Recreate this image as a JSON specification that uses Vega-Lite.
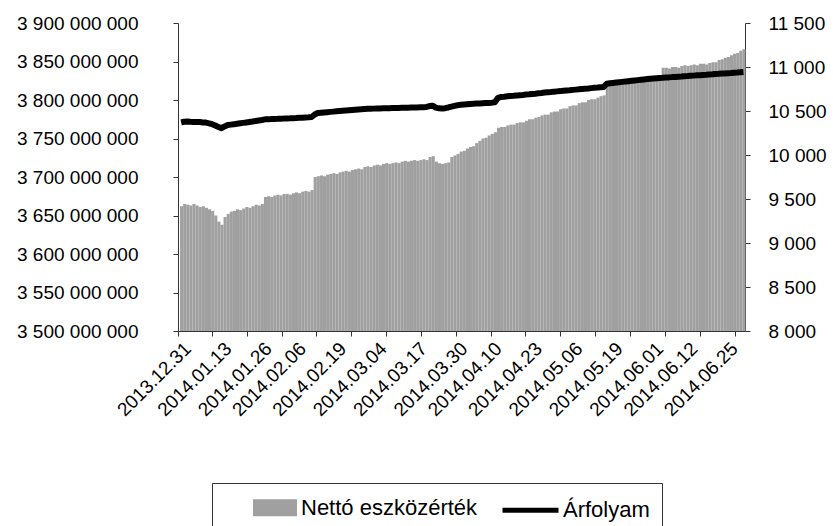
{
  "$schema": "https://vega.github.io/schema/vega-lite/v6.json",
  "width": 567,
  "height": 308,
  "autosize": {"type": "none"},
  "padding": {"left": 178, "top": 23, "right": 88, "bottom": 195},
  "background": "#ffffff",
  "config": {
    "font": "Liberation Sans",
    "view": {"stroke": null},
    "axis": {"labelFont": "Liberation Sans", "labelFontSize": 19, "labelColor": "#000000", "domainColor": "#333333", "tickColor": "#333333", "grid": false, "title": null},
    "legend": {"labelFont": "Liberation Sans", "labelFontSize": 22, "labelColor": "#000000", "labelLimit": 400}
  },
  "data": {"values": [
    {"date":"2013-12-31","nav":3662000000,"rate":10370},
    {"date":"2014-01-01","nav":3665000000,"rate":10378},
    {"date":"2014-01-02","nav":3664000000,"rate":10380},
    {"date":"2014-01-03","nav":3663000000,"rate":10377},
    {"date":"2014-01-04","nav":3665000000,"rate":10375},
    {"date":"2014-01-05","nav":3663000000,"rate":10376},
    {"date":"2014-01-06","nav":3661000000,"rate":10374},
    {"date":"2014-01-07","nav":3662000000,"rate":10370},
    {"date":"2014-01-08","nav":3660000000,"rate":10368},
    {"date":"2014-01-09","nav":3658000000,"rate":10360},
    {"date":"2014-01-10","nav":3656000000,"rate":10350},
    {"date":"2014-01-11","nav":3650000000,"rate":10335},
    {"date":"2014-01-12","nav":3642000000,"rate":10318},
    {"date":"2014-01-13","nav":3638000000,"rate":10305},
    {"date":"2014-01-14","nav":3648000000,"rate":10325},
    {"date":"2014-01-15","nav":3652000000,"rate":10340},
    {"date":"2014-01-16","nav":3655000000,"rate":10345},
    {"date":"2014-01-17","nav":3656000000,"rate":10350},
    {"date":"2014-01-18","nav":3658000000,"rate":10355},
    {"date":"2014-01-19","nav":3657000000,"rate":10360},
    {"date":"2014-01-20","nav":3659000000,"rate":10365},
    {"date":"2014-01-21","nav":3661000000,"rate":10370},
    {"date":"2014-01-22","nav":3660000000,"rate":10375},
    {"date":"2014-01-23","nav":3662000000,"rate":10380},
    {"date":"2014-01-24","nav":3664000000,"rate":10386},
    {"date":"2014-01-25","nav":3663000000,"rate":10392},
    {"date":"2014-01-26","nav":3665000000,"rate":10398},
    {"date":"2014-01-27","nav":3674000000,"rate":10405},
    {"date":"2014-01-28","nav":3675000000,"rate":10407},
    {"date":"2014-01-29","nav":3674000000,"rate":10408},
    {"date":"2014-01-30","nav":3676000000,"rate":10410},
    {"date":"2014-01-31","nav":3677000000,"rate":10411},
    {"date":"2014-02-01","nav":3676000000,"rate":10413},
    {"date":"2014-02-02","nav":3678000000,"rate":10414},
    {"date":"2014-02-03","nav":3678000000,"rate":10416},
    {"date":"2014-02-04","nav":3677000000,"rate":10417},
    {"date":"2014-02-05","nav":3679000000,"rate":10419},
    {"date":"2014-02-06","nav":3680000000,"rate":10420},
    {"date":"2014-02-07","nav":3679000000,"rate":10422},
    {"date":"2014-02-08","nav":3681000000,"rate":10424},
    {"date":"2014-02-09","nav":3682000000,"rate":10426},
    {"date":"2014-02-10","nav":3681000000,"rate":10428},
    {"date":"2014-02-11","nav":3683000000,"rate":10432},
    {"date":"2014-02-12","nav":3700000000,"rate":10460},
    {"date":"2014-02-13","nav":3701000000,"rate":10478},
    {"date":"2014-02-14","nav":3702000000,"rate":10481},
    {"date":"2014-02-15","nav":3701000000,"rate":10484},
    {"date":"2014-02-16","nav":3703000000,"rate":10487},
    {"date":"2014-02-17","nav":3704000000,"rate":10490},
    {"date":"2014-02-18","nav":3705000000,"rate":10493},
    {"date":"2014-02-19","nav":3704000000,"rate":10496},
    {"date":"2014-02-20","nav":3706000000,"rate":10499},
    {"date":"2014-02-21","nav":3707000000,"rate":10502},
    {"date":"2014-02-22","nav":3708000000,"rate":10505},
    {"date":"2014-02-23","nav":3707000000,"rate":10508},
    {"date":"2014-02-24","nav":3709000000,"rate":10511},
    {"date":"2014-02-25","nav":3710000000,"rate":10514},
    {"date":"2014-02-26","nav":3711000000,"rate":10517},
    {"date":"2014-02-27","nav":3710000000,"rate":10520},
    {"date":"2014-02-28","nav":3713000000,"rate":10523},
    {"date":"2014-03-01","nav":3714000000,"rate":10525},
    {"date":"2014-03-02","nav":3713000000,"rate":10526},
    {"date":"2014-03-03","nav":3715000000,"rate":10527},
    {"date":"2014-03-04","nav":3716000000,"rate":10528},
    {"date":"2014-03-05","nav":3715000000,"rate":10529},
    {"date":"2014-03-06","nav":3717000000,"rate":10530},
    {"date":"2014-03-07","nav":3718000000,"rate":10531},
    {"date":"2014-03-08","nav":3717000000,"rate":10532},
    {"date":"2014-03-09","nav":3718000000,"rate":10533},
    {"date":"2014-03-10","nav":3719000000,"rate":10534},
    {"date":"2014-03-11","nav":3718000000,"rate":10535},
    {"date":"2014-03-12","nav":3720000000,"rate":10536},
    {"date":"2014-03-13","nav":3721000000,"rate":10537},
    {"date":"2014-03-14","nav":3720000000,"rate":10538},
    {"date":"2014-03-15","nav":3721000000,"rate":10539},
    {"date":"2014-03-16","nav":3722000000,"rate":10540},
    {"date":"2014-03-17","nav":3721000000,"rate":10541},
    {"date":"2014-03-18","nav":3722000000,"rate":10542},
    {"date":"2014-03-19","nav":3723000000,"rate":10543},
    {"date":"2014-03-20","nav":3722000000,"rate":10546},
    {"date":"2014-03-21","nav":3726000000,"rate":10556},
    {"date":"2014-03-22","nav":3727000000,"rate":10560},
    {"date":"2014-03-23","nav":3720000000,"rate":10538},
    {"date":"2014-03-24","nav":3718000000,"rate":10530},
    {"date":"2014-03-25","nav":3717000000,"rate":10528},
    {"date":"2014-03-26","nav":3718000000,"rate":10532},
    {"date":"2014-03-27","nav":3719000000,"rate":10540},
    {"date":"2014-03-28","nav":3726000000,"rate":10550},
    {"date":"2014-03-29","nav":3728000000,"rate":10558},
    {"date":"2014-03-30","nav":3730000000,"rate":10565},
    {"date":"2014-03-31","nav":3733000000,"rate":10570},
    {"date":"2014-04-01","nav":3734000000,"rate":10574},
    {"date":"2014-04-02","nav":3737000000,"rate":10577},
    {"date":"2014-04-03","nav":3739000000,"rate":10580},
    {"date":"2014-04-04","nav":3740000000,"rate":10582},
    {"date":"2014-04-05","nav":3744000000,"rate":10584},
    {"date":"2014-04-06","nav":3747000000,"rate":10586},
    {"date":"2014-04-07","nav":3750000000,"rate":10588},
    {"date":"2014-04-08","nav":3751000000,"rate":10590},
    {"date":"2014-04-09","nav":3754000000,"rate":10592},
    {"date":"2014-04-10","nav":3756000000,"rate":10595},
    {"date":"2014-04-11","nav":3758000000,"rate":10600},
    {"date":"2014-04-12","nav":3764000000,"rate":10650},
    {"date":"2014-04-13","nav":3765000000,"rate":10660},
    {"date":"2014-04-14","nav":3765000000,"rate":10663},
    {"date":"2014-04-15","nav":3767000000,"rate":10667},
    {"date":"2014-04-16","nav":3768000000,"rate":10670},
    {"date":"2014-04-17","nav":3768000000,"rate":10673},
    {"date":"2014-04-18","nav":3770000000,"rate":10677},
    {"date":"2014-04-19","nav":3771000000,"rate":10680},
    {"date":"2014-04-20","nav":3771000000,"rate":10683},
    {"date":"2014-04-21","nav":3773000000,"rate":10687},
    {"date":"2014-04-22","nav":3775000000,"rate":10690},
    {"date":"2014-04-23","nav":3775000000,"rate":10694},
    {"date":"2014-04-24","nav":3777000000,"rate":10697},
    {"date":"2014-04-25","nav":3778000000,"rate":10701},
    {"date":"2014-04-26","nav":3780000000,"rate":10705},
    {"date":"2014-04-27","nav":3781000000,"rate":10710},
    {"date":"2014-04-28","nav":3781000000,"rate":10713},
    {"date":"2014-04-29","nav":3784000000,"rate":10716},
    {"date":"2014-04-30","nav":3785000000,"rate":10720},
    {"date":"2014-05-01","nav":3785000000,"rate":10723},
    {"date":"2014-05-02","nav":3788000000,"rate":10726},
    {"date":"2014-05-03","nav":3789000000,"rate":10730},
    {"date":"2014-05-04","nav":3789000000,"rate":10733},
    {"date":"2014-05-05","nav":3792000000,"rate":10736},
    {"date":"2014-05-06","nav":3793000000,"rate":10740},
    {"date":"2014-05-07","nav":3793000000,"rate":10743},
    {"date":"2014-05-08","nav":3796000000,"rate":10746},
    {"date":"2014-05-09","nav":3797000000,"rate":10750},
    {"date":"2014-05-10","nav":3797000000,"rate":10753},
    {"date":"2014-05-11","nav":3800000000,"rate":10756},
    {"date":"2014-05-12","nav":3801000000,"rate":10760},
    {"date":"2014-05-13","nav":3801000000,"rate":10763},
    {"date":"2014-05-14","nav":3803000000,"rate":10766},
    {"date":"2014-05-15","nav":3805000000,"rate":10770},
    {"date":"2014-05-16","nav":3806000000,"rate":10773},
    {"date":"2014-05-17","nav":3822000000,"rate":10810},
    {"date":"2014-05-18","nav":3822000000,"rate":10815},
    {"date":"2014-05-19","nav":3821000000,"rate":10819},
    {"date":"2014-05-20","nav":3823000000,"rate":10823},
    {"date":"2014-05-21","nav":3824000000,"rate":10827},
    {"date":"2014-05-22","nav":3823000000,"rate":10831},
    {"date":"2014-05-23","nav":3825000000,"rate":10835},
    {"date":"2014-05-24","nav":3825000000,"rate":10839},
    {"date":"2014-05-25","nav":3824000000,"rate":10843},
    {"date":"2014-05-26","nav":3826000000,"rate":10847},
    {"date":"2014-05-27","nav":3827000000,"rate":10851},
    {"date":"2014-05-28","nav":3826000000,"rate":10855},
    {"date":"2014-05-29","nav":3828000000,"rate":10859},
    {"date":"2014-05-30","nav":3828000000,"rate":10863},
    {"date":"2014-05-31","nav":3827000000,"rate":10866},
    {"date":"2014-06-01","nav":3829000000,"rate":10869},
    {"date":"2014-06-02","nav":3830000000,"rate":10872},
    {"date":"2014-06-03","nav":3830000000,"rate":10875},
    {"date":"2014-06-04","nav":3842000000,"rate":10877},
    {"date":"2014-06-05","nav":3842000000,"rate":10880},
    {"date":"2014-06-06","nav":3841000000,"rate":10882},
    {"date":"2014-06-07","nav":3843000000,"rate":10885},
    {"date":"2014-06-08","nav":3843000000,"rate":10887},
    {"date":"2014-06-09","nav":3842000000,"rate":10890},
    {"date":"2014-06-10","nav":3844000000,"rate":10892},
    {"date":"2014-06-11","nav":3845000000,"rate":10895},
    {"date":"2014-06-12","nav":3844000000,"rate":10897},
    {"date":"2014-06-13","nav":3845000000,"rate":10900},
    {"date":"2014-06-14","nav":3846000000,"rate":10902},
    {"date":"2014-06-15","nav":3845000000,"rate":10905},
    {"date":"2014-06-16","nav":3847000000,"rate":10907},
    {"date":"2014-06-17","nav":3847000000,"rate":10910},
    {"date":"2014-06-18","nav":3846000000,"rate":10912},
    {"date":"2014-06-19","nav":3848000000,"rate":10915},
    {"date":"2014-06-20","nav":3849000000,"rate":10917},
    {"date":"2014-06-21","nav":3849000000,"rate":10920},
    {"date":"2014-06-22","nav":3852000000,"rate":10922},
    {"date":"2014-06-23","nav":3853000000,"rate":10925},
    {"date":"2014-06-24","nav":3855000000,"rate":10927},
    {"date":"2014-06-25","nav":3856000000,"rate":10930},
    {"date":"2014-06-26","nav":3858000000,"rate":10932},
    {"date":"2014-06-27","nav":3860000000,"rate":10935},
    {"date":"2014-06-28","nav":3861000000,"rate":10937},
    {"date":"2014-06-29","nav":3864000000,"rate":10940},
    {"date":"2014-06-30","nav":3866000000,"rate":10943}
  ]},
  "layer": [
    {
      "mark": {"type": "bar", "binSpacing": 0},
      "encoding": {
        "x": {
          "field": "date", "timeUnit": "utcyearmonthdate", "type": "temporal",
          "scale": {"type": "utc", "domain": [1388404800000, 1404172800000], "nice": false},
          "axis": {
            "orient": "bottom", "title": null, "ticks": false, "domain": true,
            "values": [1388491200000, 1389614400000, 1390737600000, 1391688000000, 1392811200000, 1393934400000, 1395057600000, 1396180800000, 1397131200000, 1398254400000, 1399377600000, 1400500800000, 1401624000000, 1402574400000, 1403697600000],
            "labelExpr": "utcFormat(datum.value, '%Y.%m.%d')",
            "labelAngle": -45, "labelAlign": "right", "labelBaseline": "top", "labelPadding": 8, "labelOverlap": false, "labelBound": false, "labelFlush": false
          }
        },
        "y": {
          "field": "nav", "type": "quantitative",
          "scale": {"domain": [3500000000, 3900000000], "zero": false, "nice": false},
          "axis": {
            "orient": "left", "title": null, "tickSize": 5, "labelPadding": 35,
            "values": [3500000000, 3550000000, 3600000000, 3650000000, 3700000000, 3750000000, 3800000000, 3850000000, 3900000000],
            "labelExpr": "replace(format(datum.value, ','), regexp(',', 'g'), ' ')"
          }
        },
        "y2": {"datum": 3500000000},
        "color": {
          "datum": "Nettó eszközérték",
          "scale": {"domain": ["Nettó eszközérték", "Árfolyam"], "range": ["#a0a0a0", "#000000"]},
          "legend": {
            "title": null, "orient": "none", "direction": "horizontal",
            "legendX": 34, "legendY": 460,
            "padding": 12, "strokeColor": "#333333", "columnPadding": 8,
            "symbolSize": 400, "symbolStrokeWidth": 5, "labelOffset": 52, "labelLimit": 400,
            "symbolType": "M1.9,-0.6H5.8V0.6H1.9Z",
            "encode": {
              "symbols": {"update": {
                "shape": {"signal": "datum.value === 'Árfolyam' ? 'M0.4,0H6' : 'M1.9,-0.6H5.8V0.6H1.9Z'"},
                "fill": {"signal": "datum.value === 'Árfolyam' ? 'transparent' : '#a0a0a0'"},
                "stroke": {"signal": "datum.value === 'Árfolyam' ? '#000000' : 'transparent'"},
                "strokeWidth": {"value": 5},
                "opacity": {"value": 1}
              }}
            }
          }
        }
      }
    },
    {
      "mark": {"type": "line", "strokeWidth": 6, "strokeJoin": "round", "strokeCap": "butt"},
      "encoding": {
        "x": {
          "field": "date", "timeUnit": "utcyearmonthdate", "type": "temporal", "bandPosition": 0.5,
          "axis": {
            "orient": "bottom", "title": null, "labels": false, "domain": false, "ticks": true, "tickSize": 5,
            "values": [1388404800000, 1389344400000, 1390316400000, 1391284800000, 1392253200000, 1393221600000, 1394193600000, 1395162000000, 1396130400000, 1397098800000, 1398067200000, 1399035600000, 1400007600000, 1400976000000, 1401944400000, 1402912800000, 1403881200000]
          }
        },
        "y": {
          "field": "rate", "type": "quantitative",
          "scale": {"domain": [8000, 11500], "zero": false, "nice": false},
          "axis": {
            "orient": "right", "title": null, "tickSize": 5, "labelPadding": 18,
            "values": [8000, 8500, 9000, 9500, 10000, 10500, 11000, 11500],
            "labelExpr": "replace(format(datum.value, ','), regexp(',', 'g'), ' ')"
          }
        },
        "color": {"datum": "Árfolyam"}
      }
    }
  ],
  "resolve": {"scale": {"y": "independent"}, "axis": {"x": "independent", "y": "independent"}}
}
